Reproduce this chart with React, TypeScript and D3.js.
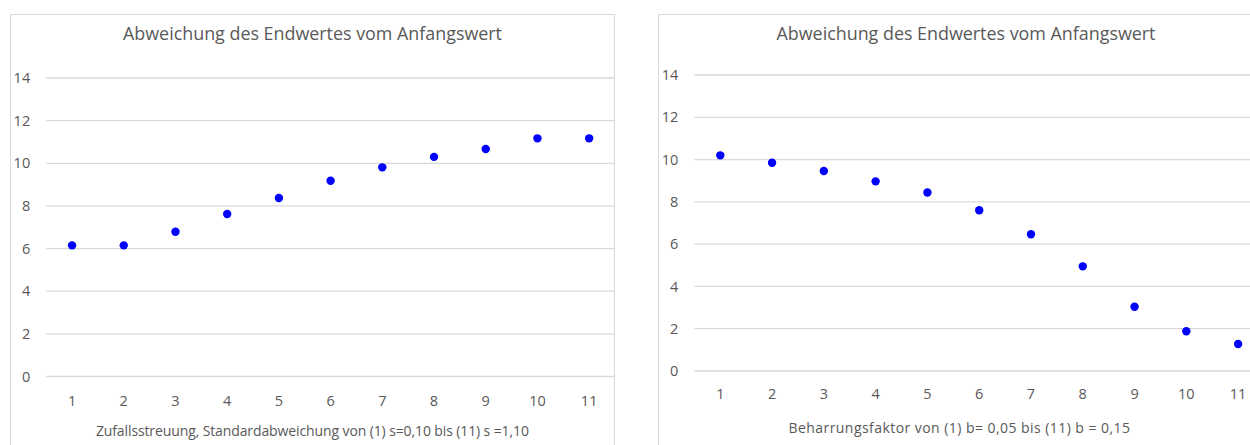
import React from "react";
import * as d3 from "d3";

const categories = ["1", "2", "3", "4", "5", "6", "7", "8", "9", "10", "11"];
const leftValues = [6.15, 6.15, 6.79, 7.62, 8.37, 9.18, 9.81, 10.3, 10.67, 11.17, 11.17];
const rightValues = [10.2, 9.85, 9.46, 8.97, 8.44, 7.6, 6.47, 4.95, 3.04, 1.88, 1.28];
const yTicks = [0, 2, 4, 6, 8, 10, 12, 14];
const chartTitle = "Abweichung des Endwertes vom Anfangswert";
const leftAxisTitle = "Zufallsstreuung, Standardabweichung von (1) s=0,10 bis (11) s =1,10";
const rightAxisTitle = "Beharrungsfaktor von (1) b= 0,05 bis (11) b = 0,15";

const FONT = "'Open Sans', sans-serif";
const GRID = "#d9d9d9";
const TEXT = "#595959";

type ChartProps = {
  values: number[];
  axisTitle: string;
  boxX: number;
  boxW: number;
  plotX0: number;
  plotX1: number;
  y0: number;
  y14: number;
  titleX: number;
  titleY: number;
  xLabelY: number;
  axisTitleX: number;
  axisTitleY: number;
  axisTitleW: number;
};

function Chart(p: ChartProps) {
  const x = d3.scaleBand<string>().domain(categories).range([p.plotX0, p.plotX1]).padding(0);
  const y = d3.scaleLinear().domain([0, 14]).range([p.y0, p.y14]);
  return (
    <g>
      <rect x={p.boxX} y={14.5} width={p.boxW} height={460} fill="#fff" stroke={GRID} strokeWidth={1} />
      <text x={p.titleX} y={p.titleY} textAnchor="middle" fontFamily={FONT} fontSize={17.9} fill={TEXT} textLength={379} lengthAdjust="spacing">
        {chartTitle}
      </text>
      {yTicks.map((t) => (
        <g key={t}>
          <line x1={p.plotX0} x2={Math.min(p.plotX1, p.boxX + p.boxW)} y1={y(t)} y2={y(t)} stroke={GRID} strokeWidth={1.3} />
          <text x={p.plotX0 - 16} y={y(t)} dy="0.35em" textAnchor="end" fontFamily={FONT} fontSize={14.5} fill={TEXT}>
            {t}
          </text>
        </g>
      ))}
      {categories.map((c) => (
        <text key={c} x={(x(c) as number) + x.bandwidth() / 2} y={p.xLabelY} dy="0.35em" textAnchor="middle" fontFamily={FONT} fontSize={14.5} fill={TEXT}>
          {c}
        </text>
      ))}
      <text x={p.axisTitleX} y={p.axisTitleY} dy="0.35em" textAnchor="middle" fontFamily={FONT} fontSize={14} fill={TEXT} textLength={p.axisTitleW} lengthAdjust="spacing">
        {p.axisTitle}
      </text>
      {p.values.map((v, i) => (
        <circle key={i} cx={(x(categories[i]) as number) + x.bandwidth() / 2} cy={y(v)} r={4.2} fill="#0000ff" />
      ))}
    </g>
  );
}

export default function App() {
  return (
    <svg width={1250} height={445} style={{ position: "absolute", left: 0, top: 0, background: "#fff" }}>
      <rect x={0} y={0} width={1250} height={445} fill="#fff" />
      <Chart
        values={leftValues}
        axisTitle={leftAxisTitle}
        boxX={10.5}
        boxW={604}
        plotX0={46.2}
        plotX1={615}
        y0={376.5}
        y14={78}
        titleX={312.5}
        titleY={40}
        xLabelY={401}
        axisTitleX={312.4}
        axisTitleY={431}
        axisTitleW={433}
      />
      <Chart
        values={rightValues}
        axisTitle={rightAxisTitle}
        boxX={658.5}
        boxW={613}
        plotX0={694.4}
        plotX1={1264}
        y0={371}
        y14={75}
        titleX={966}
        titleY={39.5}
        xLabelY={393.5}
        axisTitleX={959.2}
        axisTitleY={428.4}
        axisTitleW={341.6}
      />
    </svg>
  );
}
